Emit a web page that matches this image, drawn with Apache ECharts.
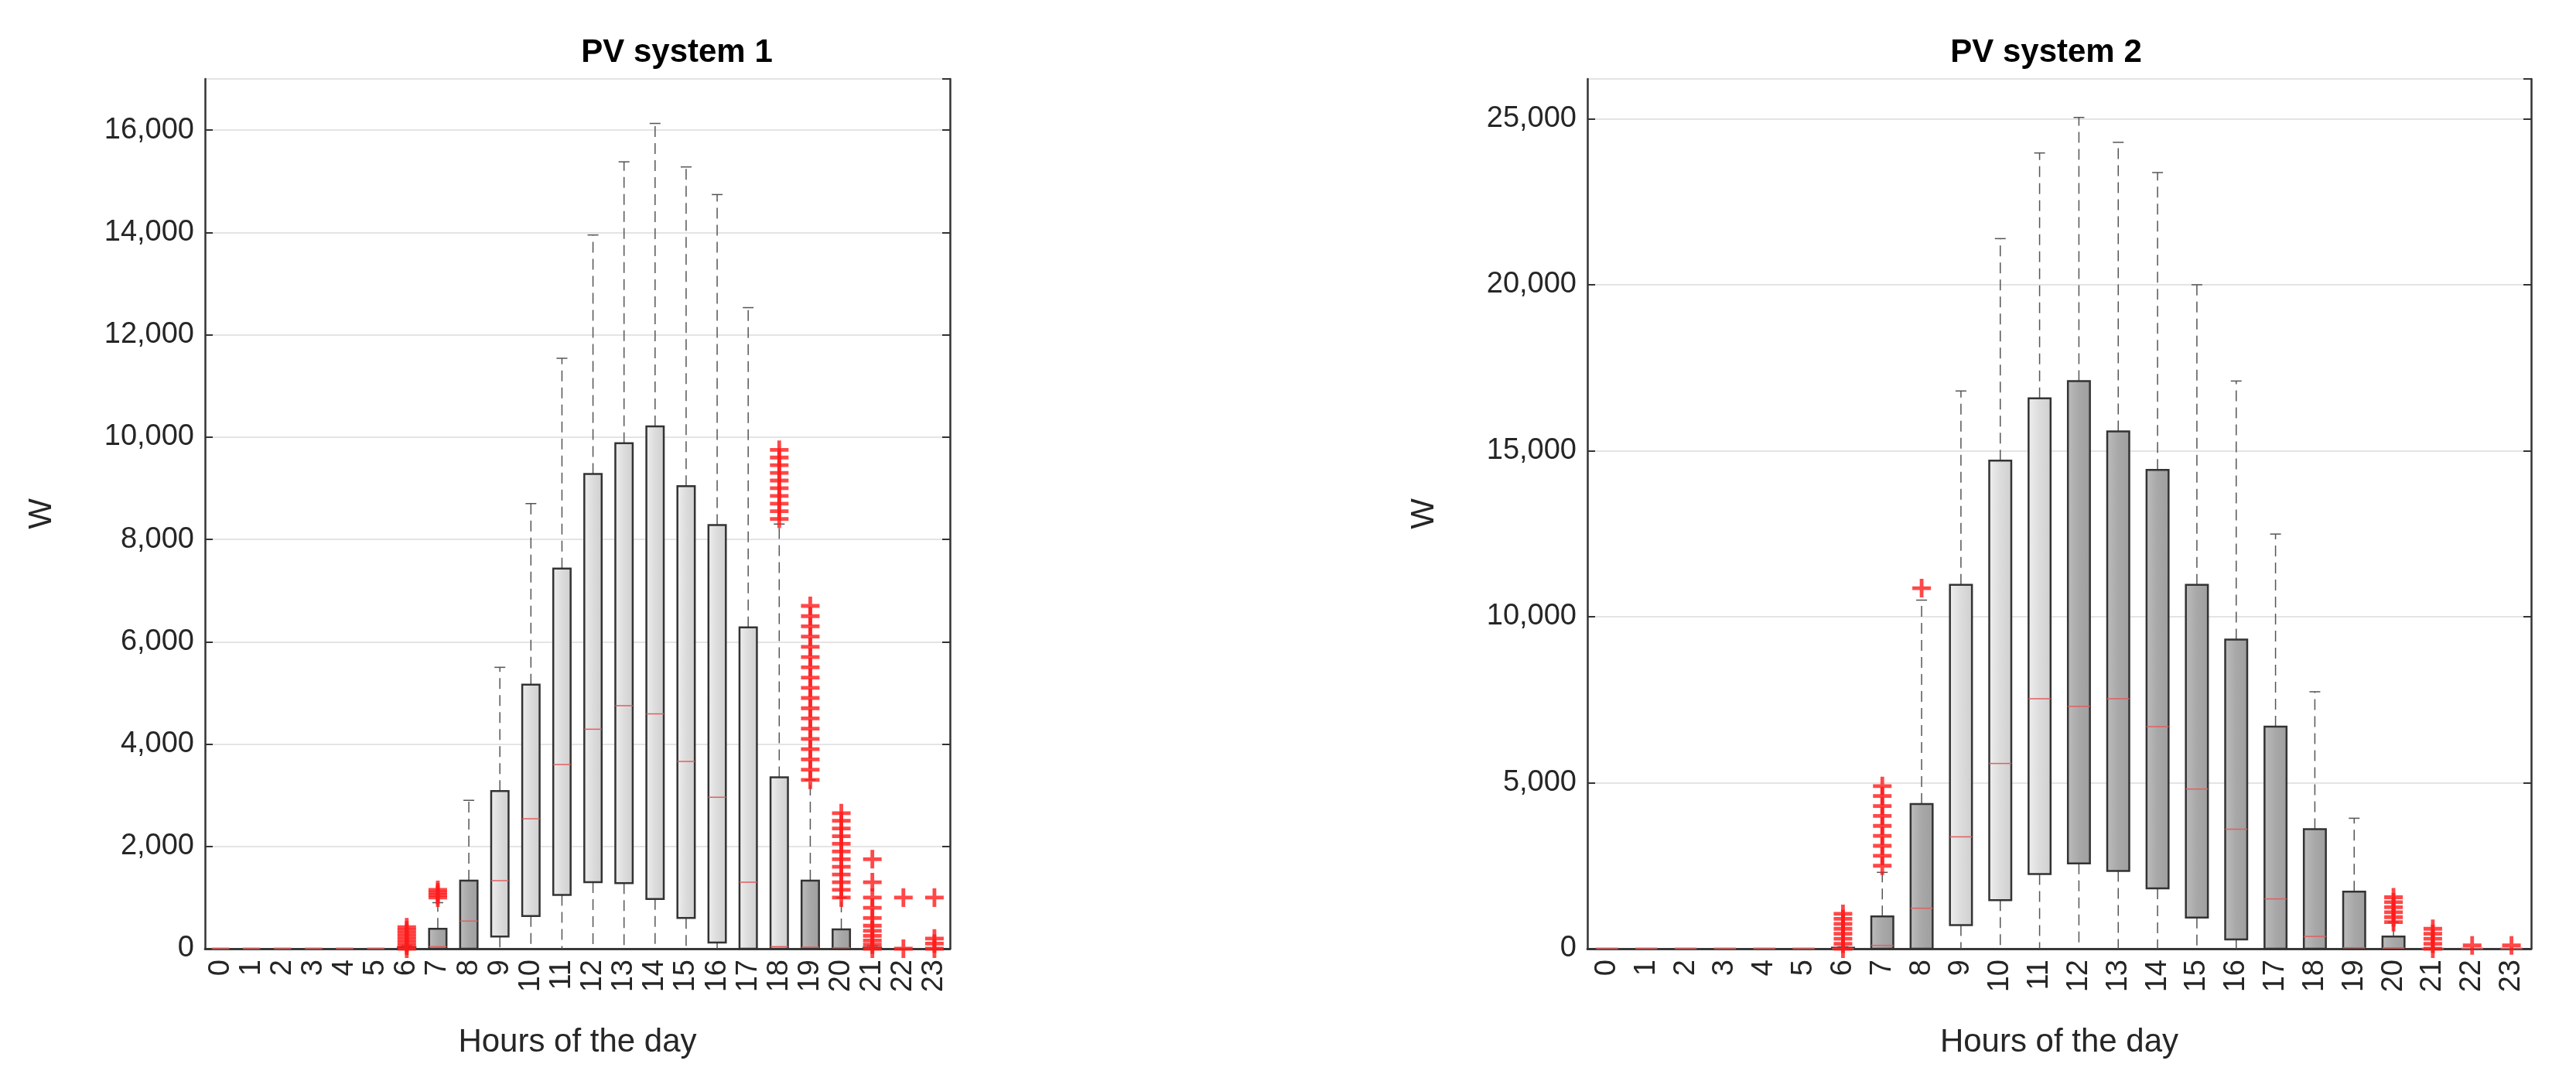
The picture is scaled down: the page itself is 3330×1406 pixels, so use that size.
<!DOCTYPE html>
<html>
<head>
<meta charset="utf-8">
<script src="https://cdn.jsdelivr.net/npm/echarts@6/dist/echarts.min.js"></script>
<style>html,body{margin:0;background:#fff}#main{width:3330px;height:1406px}</style>
</head>
<body>
<div id="main"></div>
<script>
var hours = ['0','1','2','3','4','5','6','7','8','9','10','11','12','13','14','15','16','17','18','19','20','21','22','23'];

// [low, q1, median, q3, high] per hour
var box1 = [
  [0,0,0,0,0],[0,0,0,0,0],[0,0,0,0,0],[0,0,0,0,0],[0,0,0,0,0],[0,0,0,0,0],
  [0,0,0,30,60],[0,0,40,390,900],[0,0,540,1330,2900],[0,240,1330,3080,5500],
  [0,640,2540,5160,8700],[0,1050,3600,7430,11540],[0,1300,4290,9280,13950],
  [0,1280,4750,9880,15380],[0,970,4590,10210,16130],[0,600,3660,9040,15280],
  [0,120,2960,8280,14740],[0,0,1300,6280,12530],[0,0,40,3350,8300],
  [0,0,30,1330,3300],[0,0,20,380,1000],[0,0,0,20,60],[0,0,0,0,0],[0,0,0,0,0]
];
var dark1 = [7,8,19,20];
var out1 = [
  [6,0],[6,60],[6,120],[6,180],[6,240],[6,300],[6,360],[6,420],
  [7,1000],[7,1050],[7,1100],[7,1150],
  [18,8400],[18,8550],[18,8700],[18,8850],[18,9000],[18,9150],[18,9300],[18,9450],[18,9600],[18,9750],
  [19,3300],[19,3500],[19,3700],[19,3900],[19,4100],[19,4300],[19,4500],[19,4700],[19,4900],[19,5100],[19,5300],[19,5500],[19,5700],[19,5900],[19,6100],[19,6300],[19,6500],[19,6700],
  [20,1000],[20,1150],[20,1300],[20,1450],[20,1600],[20,1750],[20,1900],[20,2050],[20,2200],[20,2350],[20,2500],[20,2650],
  [21,0],[21,80],[21,160],[21,250],[21,350],[21,450],[21,600],[21,800],[21,1000],[21,1300],[21,1750],
  [22,0],[22,1000],[23,0],[23,100],[23,200],[23,1000]
];

var box2 = [
  [0,0,0,0,0],[0,0,0,0,0],[0,0,0,0,0],[0,0,0,0,0],[0,0,0,0,0],[0,0,0,0,0],
  [0,0,0,30,60],[0,0,100,975,2300],[0,0,1220,4360,10500],[0,710,3370,10960,16800],
  [0,1460,5580,14700,21390],[0,2250,7530,16580,23970],[0,2570,7300,17100,25040],
  [0,2340,7530,15580,24290],[0,1820,6690,14420,23380],[0,940,4810,10960,20000],
  [0,280,3600,9310,17100],[0,0,1500,6690,12490],[0,0,370,3600,7740],
  [0,0,30,1720,3930],[0,0,20,370,800],[0,0,0,0,0],[0,0,0,0,0],[0,0,0,0,0]
];
var dark2 = [7,8,12,13,14,15,16,17,18,19,20];
var out2 = [
  [6,0],[6,150],[6,300],[6,450],[6,600],[6,750],[6,900],[6,1050],
  [7,2500],[7,2800],[7,3100],[7,3400],[7,3700],[7,4000],[7,4300],[7,4600],[7,4900],
  [8,10860],
  [20,800],[20,950],[20,1100],[20,1250],[20,1400],[20,1550],
  [21,0],[21,150],[21,300],[21,450],[21,600],
  [22,100],[23,100]
];

var plus = 'path://M4,0H6V4H10V6H6V10H4V6H0V4H4Z';
var txt = '#262626';

function boxSeries(gridIdx, boxes, darkList) {
  return {
    type: 'custom',
    xAxisIndex: gridIdx * 2, yAxisIndex: gridIdx * 2,
    data: boxes.map(function (b, i) { return [i].concat(b); }),
    renderItem: function (params, api) {
      var i = api.value(0);
      var lo = api.coord([i, api.value(1)]), q1 = api.coord([i, api.value(2)]);
      var md = api.coord([i, api.value(3)]), q3 = api.coord([i, api.value(4)]);
      var hi = api.coord([i, api.value(5)]);
      var w = api.size([1, 0])[0] * 0.56, x = lo[0];
      var dark = darkList.indexOf(i) >= 0;
      var dash = { stroke: '#555', lineWidth: 1.5, lineDash: [14, 8] };
      var cap = { stroke: '#555', lineWidth: 1.5 };
      return {
        type: 'group', children: [
          { type: 'line', shape: { x1: x, y1: q3[1], x2: x, y2: hi[1] }, style: dash },
          { type: 'line', shape: { x1: x, y1: q1[1], x2: x, y2: lo[1] }, style: dash },
          { type: 'line', shape: { x1: x - 7, y1: hi[1], x2: x + 7, y2: hi[1] }, style: cap },
          { type: 'rect', shape: { x: x - w / 2, y: q3[1], width: w, height: q1[1] - q3[1] },
            style: { fill: { type: 'linear', x: 0, y: 0, x2: 1, y2: 0, colorStops: dark ?
              [{ offset: 0, color: '#bdbdbd' }, { offset: 0.5, color: '#a8a8a8' }, { offset: 1, color: '#9e9e9e' }] :
              [{ offset: 0, color: '#efefef' }, { offset: 0.5, color: '#dcdcdc' }, { offset: 1, color: '#cfcfcf' }] },
              stroke: '#333', lineWidth: 2.5 } },
          { type: 'line', shape: { x1: x - w / 2, y1: md[1], x2: x + w / 2, y2: md[1] },
            style: { stroke: '#e06060', lineWidth: 1.5 } }
        ]
      };
    },
    z: 3
  };
}

function outSeries(gridIdx, pts) {
  return {
    type: 'scatter', xAxisIndex: gridIdx * 2, yAxisIndex: gridIdx * 2,
    data: pts, symbol: plus, symbolSize: 24,
    itemStyle: { color: '#ff1a1a' }, z: 4
  };
}

function axes(gridIdx, max, interval) {
  var lbl = { fontFamily: 'Liberation Sans', fontSize: 38, color: txt };
  return {
    x: [
      { type: 'category', gridIndex: gridIdx, data: hours, boundaryGap: true,
        name: 'Hours of the day', nameLocation: 'middle', nameGap: 100,
        nameTextStyle: { fontFamily: 'Liberation Sans', fontSize: 42, color: txt },
        axisLine: { lineStyle: { color: '#333', width: 2.5 } },
        axisTick: { inside: true, alignWithLabel: true, length: 10, lineStyle: { color: '#333', width: 2 } },
        axisLabel: Object.assign({ rotate: 90, interval: 0, margin: 14 }, lbl) },
      { type: 'category', gridIndex: gridIdx, data: hours, position: 'top',
        axisLine: { lineStyle: { color: '#333', width: 2.5 } },
        axisTick: { inside: true, alignWithLabel: true, length: 10, lineStyle: { color: '#333', width: 2 } },
        axisLabel: { show: false } }
    ],
    y: [
      { type: 'value', gridIndex: gridIdx, min: 0, max: max, interval: interval,
        name: 'W', nameLocation: 'middle', nameGap: 190, nameRotate: 90,
        nameTextStyle: { fontFamily: 'Liberation Sans', fontSize: 42, color: txt },
        axisLine: { show: true, lineStyle: { color: '#333', width: 2.5 } },
        axisTick: { show: true, inside: true, length: 10, lineStyle: { color: '#333', width: 2 } },
        splitLine: { lineStyle: { color: '#e4e4e4', width: 2 } },
        axisLabel: Object.assign({ margin: 14, showMaxLabel: false }, lbl) },
      { type: 'value', gridIndex: gridIdx, min: 0, max: max, interval: interval, position: 'right',
        axisLine: { show: true, lineStyle: { color: '#333', width: 2.5 } },
        axisTick: { show: true, inside: true, length: 10, lineStyle: { color: '#333', width: 2 } },
        splitLine: { show: false }, axisLabel: { show: false } }
    ]
  };
}

var a1 = axes(0, 17000, 2000), a2 = axes(1, 26200, 5000);

var chart = echarts.init(document.getElementById('main'));
chart.setOption({
  backgroundColor: '#fff',
  animation: false,
  title: [
    { text: 'PV system 1', left: 870, top: 42, textAlign: 'center',
      textStyle: { fontFamily: 'Liberation Sans', fontWeight: 'bold', fontSize: 42, color: '#000' } },
    { text: 'PV system 2', left: 2640, top: 42, textAlign: 'center',
      textStyle: { fontFamily: 'Liberation Sans', fontWeight: 'bold', fontSize: 42, color: '#000' } }
  ],
  grid: [
    { left: 265, right: 3330 - 1228, top: 102, bottom: 1406 - 1226 },
    { left: 2052, right: 3330 - 3272, top: 102, bottom: 1406 - 1226 }
  ],
  xAxis: a1.x.concat(a2.x),
  yAxis: a1.y.concat(a2.y),
  series: [
    boxSeries(0, box1, dark1), outSeries(0, out1),
    boxSeries(1, box2, dark2), outSeries(1, out2)
  ]
});
</script>
</body>
</html>
